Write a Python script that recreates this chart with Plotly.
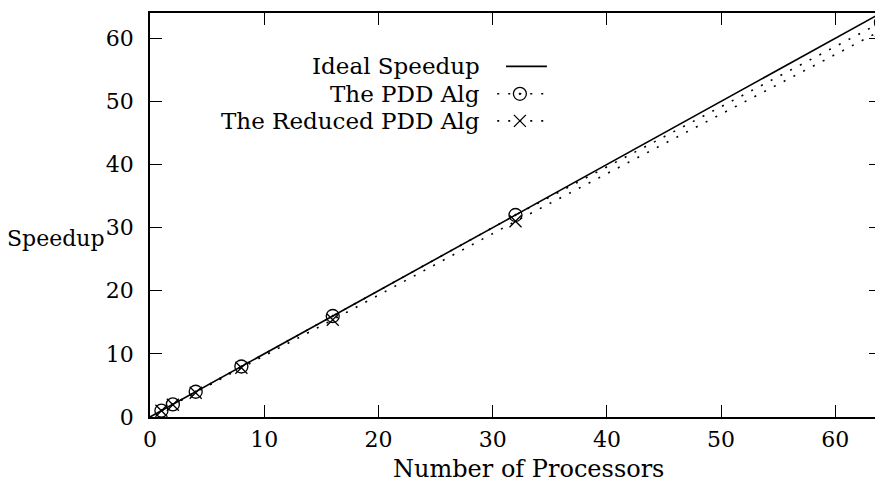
import plotly.graph_objects as go

# ---- data ----
processors = [1, 2, 4, 8, 16, 32, 64]
pdd_speedup = [1.0, 2.0, 4.0, 8.0, 16.0, 32.0, 62.5]
reduced_speedup = [1.0, 1.95, 3.85, 7.8, 15.4, 31.0, 61.2]
ideal_x = [0, 64]
ideal_y = [0, 64]
x_ticks = [0, 10, 20, 30, 40, 50, 60]
y_ticks = [0, 10, 20, 30, 40, 50, 60]
legend_names = ["Ideal Speedup", "The PDD Alg", "The Reduced PDD Alg"]

FONT = "DejaVu Serif"
FS_TICK = 22
FS_LEG = 23
FS_XT = 24
FS_YT = 22
DOT = "2px,9px"

fig = go.Figure()

fig.add_trace(go.Scatter(x=ideal_x, y=ideal_y, mode="lines",
                         line=dict(color="black", width=1.6), showlegend=False))
fig.add_trace(go.Scatter(x=processors, y=pdd_speedup, mode="lines+markers",
                         line=dict(color="black", width=1.6, dash=DOT),
                         marker=dict(symbol="circle-open-dot", size=13, color="black",
                                     line=dict(width=1.3, color="black")),
                         cliponaxis=False, showlegend=False))
fig.add_trace(go.Scatter(x=processors, y=reduced_speedup, mode="lines+markers",
                         line=dict(color="black", width=1.6, dash=DOT),
                         marker=dict(symbol="x-thin-open", size=12, color="black",
                                     line=dict(width=1.3, color="black")),
                         cliponaxis=False, showlegend=False))

# ---- hand-drawn legend (text left, sample right, as in the reference) ----
leg_rows = [0.868, 0.800, 0.733]
leg_text_x = 0.454
seg_x = [0.475, 0.546]
mark_x = 0.506

fig.add_trace(go.Scatter(x=[0.487, 0.543], y=[leg_rows[0]] * 2, mode="lines",
                         line=dict(color="black", width=1.6),
                         xaxis="x2", yaxis="y2", showlegend=False))
fig.add_trace(go.Scatter(x=seg_x, y=[leg_rows[1]] * 2, mode="lines",
                         line=dict(color="black", width=1.6, dash=DOT),
                         xaxis="x2", yaxis="y2", showlegend=False))
fig.add_trace(go.Scatter(x=[mark_x], y=[leg_rows[1]], mode="markers",
                         marker=dict(symbol="circle-open-dot", size=13, color="black",
                                     line=dict(width=1.3, color="black")),
                         xaxis="x2", yaxis="y2", showlegend=False))
fig.add_trace(go.Scatter(x=seg_x, y=[leg_rows[2]] * 2, mode="lines",
                         line=dict(color="black", width=1.6, dash=DOT),
                         xaxis="x2", yaxis="y2", showlegend=False))
fig.add_trace(go.Scatter(x=[mark_x], y=[leg_rows[2]], mode="markers",
                         marker=dict(symbol="x-thin-open", size=12, color="black",
                                     line=dict(width=1.3, color="black")),
                         xaxis="x2", yaxis="y2", showlegend=False))

annotations = []
for name, yy in zip(legend_names, leg_rows):
    annotations.append(dict(text=name, x=leg_text_x, y=yy, xref="paper", yref="paper",
                            xanchor="right", yanchor="middle", showarrow=False,
                            font=dict(family=FONT, size=FS_LEG, color="black")))
annotations.append(dict(text="Speedup", x=-0.128, y=0.443, xref="paper", yref="paper",
                        xanchor="center", yanchor="middle", showarrow=False,
                        font=dict(family=FONT, size=FS_YT, color="black")))
annotations.append(dict(text="Number of Processors", x=0.518, y=-0.128, xref="paper",
                        yref="paper", xanchor="center", yanchor="middle", showarrow=False,
                        font=dict(family=FONT, size=FS_XT, color="black")))

axis_common = dict(showgrid=False, zeroline=False, showline=True, linecolor="black",
                   linewidth=1.6, mirror="ticks", ticks="inside", ticklen=12,
                   tickwidth=1.3, tickcolor="black",
                   tickfont=dict(family=FONT, size=FS_TICK, color="black"))

fig.update_layout(
    width=875, height=481,
    margin=dict(l=142, r=0, t=5, b=72),
    paper_bgcolor="white", plot_bgcolor="white",
    font=dict(family=FONT, size=FS_TICK, color="black"),
    xaxis=dict(range=[0, 64], tickvals=x_ticks, ticklabelstandoff=2, **axis_common),
    yaxis=dict(range=[0, 64], tickvals=y_ticks, ticklabelstandoff=10, **axis_common),
    xaxis2=dict(range=[0, 1], overlaying="x", visible=False, anchor="y2"),
    yaxis2=dict(range=[0, 1], overlaying="y", visible=False, anchor="x2"),
    annotations=annotations,
)

fig.write_html("out.html")
